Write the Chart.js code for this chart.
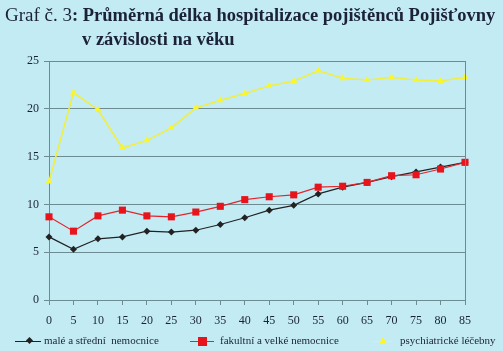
<!DOCTYPE html>
<html>
<head>
<meta charset="utf-8">
<script src="https://cdn.jsdelivr.net/npm/chart.js@4"></script>
<style>
  html, body { margin:0; padding:0; }
  body { width:503px; height:351px; background:#c3ebf4; position:relative; overflow:hidden;
         font-family:"Liberation Serif","DejaVu Serif",serif; color:#1b2238; }
  #wrap { position:absolute; left:0; top:0; width:503px; height:351px; }
  .t1 { position:absolute; left:5px; top:4px; font-size:19px; white-space:nowrap; }
  .t1 b { font-size:18.5px; }
  .t2 { position:absolute; left:82px; top:29px; font-size:18.5px; font-weight:bold; white-space:nowrap; }
  .lg { position:absolute; top:334px; font-size:11px; white-space:nowrap; }
  .ln { position:absolute; height:1px; top:341px; }
  .mk { position:absolute; }
</style>
</head>
<body>
<div id="wrap"><canvas id="c" width="503" height="351"></canvas></div>
<div class="t1">Graf č. 3<b>: Průměrná délka hospitalizace pojištěnců Pojišťovny</b></div>
<div class="t2">v závislosti na věku</div>

<div class="ln" style="left:15px;width:26px;background:#222;"></div>
<div class="mk" style="left:27px;top:338px;width:5px;height:5px;background:#222;transform:rotate(45deg);"></div>
<div class="lg" style="left:44px;">malé a střední&nbsp; nemocnice</div>

<div class="ln" style="left:190px;width:24px;background:#e3242b;"></div>
<div class="mk" style="left:198px;top:337px;width:9px;height:9px;background:#e8141c;"></div>
<div class="lg" style="left:220px;">fakultní a velké nemocnice</div>

<div class="ln" style="left:373px;width:20px;background:#f4f07a;"></div>
<div class="mk" style="left:379px;top:337px;width:0;height:0;border-left:4px solid transparent;border-right:4px solid transparent;border-bottom:7px solid #fbf52a;"></div>
<div class="lg" style="left:400px;">psychiatrické léčebny</div>

<script>
const AGES = ['0','5','10','15','20','25','30','35','40','45','50','55','60','65','70','75','80','85'];
const SMALL = [6.6, 5.3, 6.4, 6.6, 7.2, 7.1, 7.3, 7.9, 8.6, 9.4, 9.9, 11.1, 11.8, 12.3, 12.9, 13.4, 13.9, 14.4];
const LARGE = [8.7, 7.2, 8.8, 9.4, 8.8, 8.7, 9.2, 9.8, 10.5, 10.8, 11.0, 11.8, 11.9, 12.3, 13.0, 13.1, 13.7, 14.4];
const PSYCH = [12.4, 21.7, 19.9, 15.9, 16.7, 18.0, 20.1, 20.9, 21.6, 22.4, 22.9, 24.0, 23.2, 23.0, 23.3, 23.0, 22.9, 23.3];
const NAMES = ['malé a střední  nemocnice', 'fakultní a velké nemocnice', 'psychiatrické léčebny'];

const GRID = '#6f8b92';

// right border of the plot box
const frame = {
  id: 'frame',
  afterDraw(ch) {
    const a = ch.chartArea, c = ch.ctx;
    c.save();
    c.strokeStyle = GRID; c.lineWidth = 1;
    c.beginPath();
    c.moveTo(Math.round(a.right) + 0.5, a.top);
    c.lineTo(Math.round(a.right) + 0.5, a.bottom);
    c.stroke();
    c.restore();
  }
};

new Chart(document.getElementById('c'), {
  type: 'line',
  data: {
    labels: AGES,
    datasets: [
      { label: NAMES[2], data: PSYCH, borderColor: '#f2ee3c', backgroundColor: '#fbf52a',
        borderWidth: 1.5, pointStyle: 'triangle', pointRadius: 4, pointBorderWidth: 0, tension: 0 },
      { label: NAMES[1], data: LARGE, borderColor: '#e3242b', backgroundColor: '#e8141c',
        borderWidth: 1.2, pointStyle: 'rect', pointRadius: 5, pointBorderWidth: 0, tension: 0 },
      { label: NAMES[0], data: SMALL, borderColor: '#222', backgroundColor: '#222',
        borderWidth: 1.2, pointStyle: 'rectRot', pointRadius: 3.5, pointBorderWidth: 0, tension: 0 }
    ]
  },
  options: {
    responsive: false,
    animation: false,
    layout: { padding: { left: 0, right: 38, top: 61, bottom: 21 } },
    plugins: { legend: { display: false }, tooltip: { enabled: false } },
    scales: {
      x: {
        offset: false,
        afterFit(s) { s.height = 30; },
        grid: { drawOnChartArea: false, drawTicks: true, tickLength: 5, color: GRID, offset: false },
        border: { color: GRID },
        ticks: { color: '#1b2238', padding: 9, maxRotation: 0, autoSkip: false,
                 font: { family: 'Liberation Serif', size: 12 } }
      },
      y: {
        min: 0, max: 25,
        afterFit(s) { s.width = 49; },
        grid: { color: GRID, tickLength: 5 },
        border: { color: GRID },
        ticks: { stepSize: 5, color: '#1b2238', padding: 5,
                 font: { family: 'Liberation Serif', size: 12 } }
      }
    }
  },
  plugins: [frame]
});
</script>
</body>
</html>
